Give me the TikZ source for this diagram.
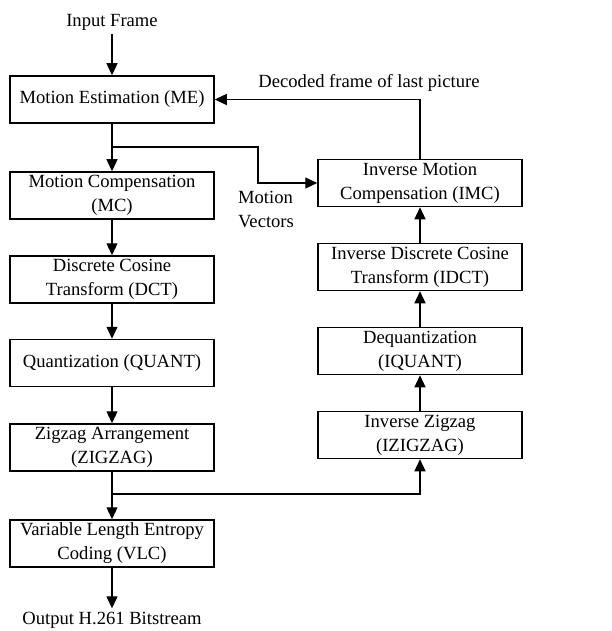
\documentclass[tikz,border=0pt]{standalone}
\usepackage{fontspec}
\setmainfont{Liberation Serif}
\usetikzlibrary{positioning}
\usetikzlibrary{arrows.meta}
\tikzset{blk/.style={draw,line width=1.5pt,minimum width=204pt,minimum height=47pt,align=center,inner sep=0pt},
arr/.style={line width=1.2pt,-{Triangle[length=12pt,width=11pt]}}}

\begin{document}
\begin{tikzpicture}[x=1pt,y=-1pt,font=\fontsize{18.6}{24}\selectfont]
\useasboundingbox (0,0) rectangle (612,631);
% encoder column
\node (in) at (112,22) {Input Frame};
\node[blk] (me) at (112,99.5) {Motion Estimation (ME)};
\node[blk] (mc) at (112,195.5) {Motion Compensation\\(MC)};
\node[blk] (dct) at (112,279.5) {Discrete Cosine\\Transform (DCT)};
\node[blk] (qnt) at (112,363) {Quantization (QUANT)};
\node[blk] (zz) at (112,447.5) {Zigzag Arrangement\\(ZIGZAG)};
\node[blk] (vlc) at (112,543.5) {Variable Length Entropy\\Coding (VLC)};
\node (out) at (112,620) {Output H.261 Bitstream};
% decoder column
\node[blk] (imc) at (420,183) {Inverse Motion\\Compensation (IMC)};
\node[blk] (idct) at (420,267) {Inverse Discrete Cosine\\Transform (IDCT)};
\node[blk] (iqnt) at (420,351) {Dequantization\\(IQUANT)};
\node[blk] (izz) at (420,435) {Inverse Zigzag\\(IZIGZAG)};
\node (dec) at (369,83) {Decoded frame of last picture};
\node[align=left] (mvec) at (266,209.5) {Motion\\Vectors};
\coordinate (mvk) at (112,147);
\coordinate (zzk) at (112,494);
% connectors
\draw[arr] (in) -- (me);
\draw[arr] (me) -- (mc);
\draw[arr] (mc) -- (dct);
\draw[arr] (dct) -- (qnt);
\draw[arr] (qnt) -- (zz);
\draw[arr] (zz) -- (vlc);
\draw[arr] (vlc) -- (out);
\draw[arr] (mvk) -- ++(146,0) |- (imc);
\draw[arr] (zzk) -| (izz);
\draw[arr] (izz) -- (iqnt);
\draw[arr] (iqnt) -- (idct);
\draw[arr] (idct) -- (imc);
\draw[arr] (imc.north) |- (me.east);
\end{tikzpicture}
\end{document}
